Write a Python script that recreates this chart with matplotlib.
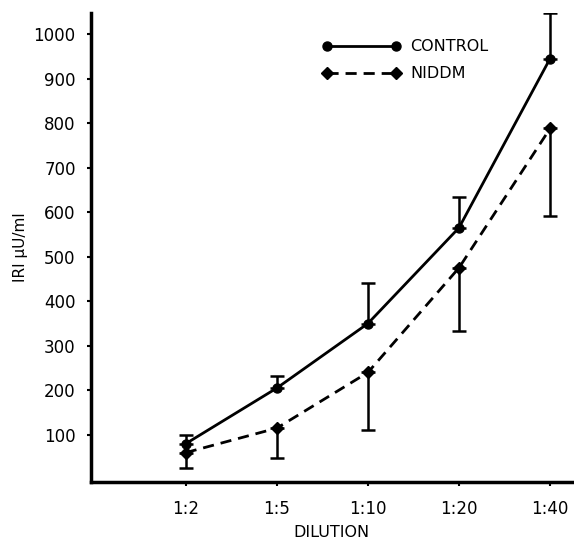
import numpy as np
import matplotlib
matplotlib.use("Agg")
import matplotlib.pyplot as plt

# Datos
dilution = ["1:2", "1:5", "1:10", "1:20", "1:40"]
control = [80, 205, 350, 565, 945]
control_up = [100, 232, 440, 635, 1047]
niddm = [60, 115, 240, 475, 788]
niddm_low = [25, 48, 110, 333, 591]
yticks = [100, 200, 300, 400, 500, 600, 700, 800, 900, 1000]

x = np.arange(len(dilution))
control = np.array(control)
niddm = np.array(niddm)

plt.rcParams["font.family"] = ["DejaVu Sans"]

fig = plt.figure(figsize=(5.74, 5.48), dpi=100)
ax = fig.add_axes([0.1585, 0.1204, 0.8395, 0.8556])

# Barras de error (control hacia arriba, NIDDM hacia abajo)
ax.errorbar(x, control, yerr=[np.zeros(len(x)), np.array(control_up) - control],
            fmt="none", ecolor="black", elinewidth=1.8, capsize=5, capthick=1.8)
ax.errorbar(x, niddm, yerr=[niddm - np.array(niddm_low), np.zeros(len(x))],
            fmt="none", ecolor="black", elinewidth=1.8, capsize=5, capthick=1.8)

ax.plot(x, control, color="black", lw=2, marker="o", ms=6.5, label="CONTROL")
ax.plot(x, niddm, color="black", lw=2, ls=(0, (4, 2.5)), marker="D", ms=6,
        label="NIDDM")

ax.set_xlim(-1.04, 4.25)
ax.set_ylim(-6, 1047)
ax.set_xticks(x)
ax.set_xticklabels(dilution)
ax.set_yticks(yticks)

for s in ["top", "right"]:
    ax.spines[s].set_visible(False)
for s in ["left", "bottom"]:
    ax.spines[s].set_linewidth(2.5)

ax.tick_params(axis="y", direction="out", length=3, width=1.5,
               labelsize=12, pad=8)
ax.tick_params(axis="x", direction="out", length=3, width=1.5,
               labelsize=12, pad=10)
ax.set_xlabel("DILUTION", fontsize=11.5, labelpad=5)
ax.set_ylabel("IRI μU/ml", fontsize=11, labelpad=4)

leg = ax.legend(loc="upper left", bbox_to_anchor=(0.45, 0.975), frameon=False,
                numpoints=2, handlelength=4.9, fontsize=11.5, handletextpad=0.6,
                labelspacing=0.75)

fig.savefig("out.png", dpi=100)
